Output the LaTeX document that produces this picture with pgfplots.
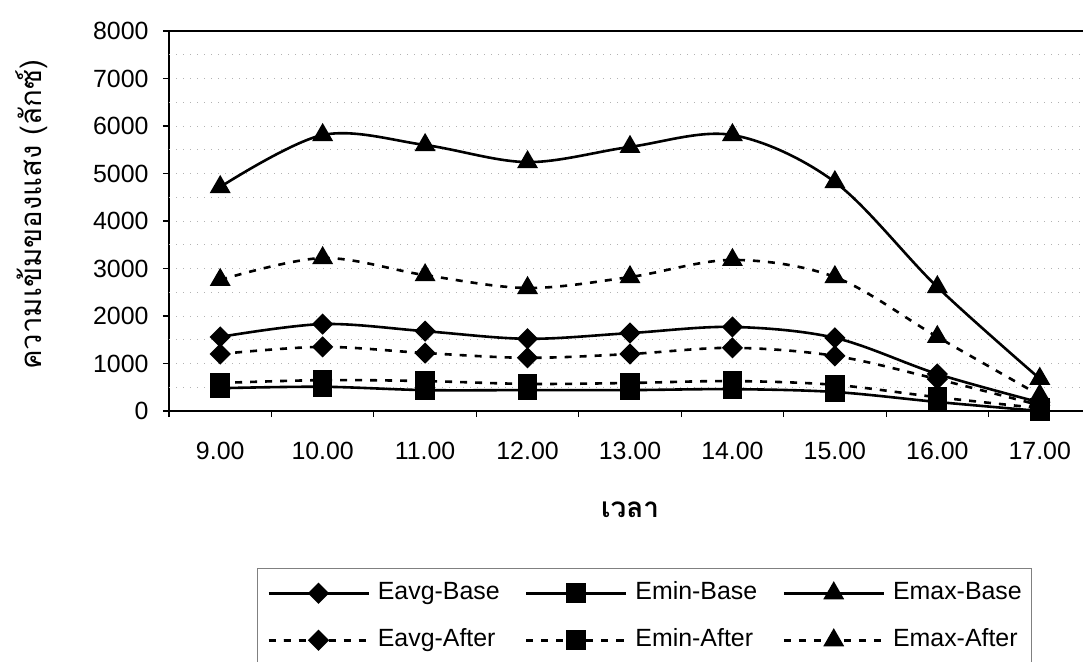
\documentclass[border=0pt]{standalone}
\usepackage{fontspec}
\setmainfont{Liberation Sans}
\newfontfamily\thaifont[Script=Thai]{Loma}
\usepackage{pgfplots}
\pgfplotsset{compat=1.18}
\begin{document}
\begin{tikzpicture}
\useasboundingbox (0,0) rectangle (1083bp,662bp);
\begin{axis}[
  at={(169bp,251bp)}, anchor=south west,
  scale only axis, width=922bp, height=380bp,
  xmin=-0.5, xmax=8.5, ymin=0, ymax=8000,
  clip=false,
  axis line style={line width=1.6bp},
  /pgf/number format/assume math mode=true,
  tick label style={font=\fontsize{25}{30}\selectfont},
  xtick={-0.5,0.5,...,8.5}, xticklabels={},
  extra x ticks={0,1,...,8},
  extra x tick labels={9.00,10.00,11.00,12.00,13.00,14.00,15.00,16.00,17.00},
  extra x tick style={major tick length=0pt},
  xticklabel style={yshift=-28bp},
  ytick={0,1000,...,8000},
  yticklabel style={xshift=-11bp},
  scaled y ticks=false,
  yticklabel={\pgfmathprintnumber[fixed,1000 sep={}]{\tick}},
  extra y ticks={500,1500,...,7500}, extra y tick labels={},
  extra y tick style={major tick length=0pt, grid=major},
  ymajorgrids,
  grid style={black!30, line width=0.5bp, dash pattern=on 1bp off 6bp},
  tick align=outside, major tick length=6bp, tick pos=left,
  tick style={black, line width=1.2bp},
  xlabel={\thaifont\bfseries เวลา},
  xlabel style={at={(axis description cs:0.5,-0.2605)}, anchor=center, font=\fontsize{28}{32}\selectfont},
  ylabel={\thaifont ความเข้มของแสง (ลักซ์)},
  ylabel style={at={(axis description cs:-0.1486,0.516)}, anchor=center, font=\fontsize{29.5}{34}\selectfont},
  legend columns=3,
  legend cell align=left,
  legend style={at={(0.0954,-0.413)}, anchor=north west, draw=black!50, line width=0.6bp,
    inner xsep=10bp, inner ysep=13bp, row sep=23bp, column sep=0bp,
    nodes={inner sep=0pt, text height=18bp, text depth=6bp, font=\fontsize{25}{30}\selectfont}},
  legend image code/.code={\draw[mark repeat=2,mark phase=2] plot coordinates {(0bp,0bp)(50bp,0bp)(100bp,0bp)};},
  every axis plot/.append style={black, line width=2.6bp, smooth, tension=0.55},
  base/.style={solid},
  after/.style={dash pattern=on 7bp off 8bp},
  dia/.style={mark=square*, mark size=6.2bp, mark options={solid, rotate=45, draw=black, fill=black}},
  sq/.style={mark=square*, mark size=8.5bp, mark options={solid, draw=black, fill=black}},
  tri/.style={mark=triangle*, mark size=9.5bp, mark options={solid, draw=black, fill=black}},
]
\addplot[base, dia] coordinates {(0,1560)(1,1830)(2,1680)(3,1520)(4,1640)(5,1770)(6,1540)(7,780)(8,180)};
\addlegendentry{\hspace{8bp}\makebox[147bp][l]{Eavg-Base}}
\addplot[base, sq] coordinates {(0,480)(1,510)(2,440)(3,440)(4,440)(5,460)(6,400)(7,190)(8,0)};
\addlegendentry{\hspace{8bp}\makebox[147bp][l]{Emin-Base}}
\addplot[base, tri] coordinates {(0,4716)(1,5810)(2,5600)(3,5240)(4,5560)(5,5810)(6,4820)(7,2610)(8,680)};
\addlegendentry{\hspace{8bp}Emax-Base}
\addplot[after, dia] coordinates {(0,1200)(1,1350)(2,1220)(3,1120)(4,1200)(5,1330)(6,1160)(7,670)(8,120)};
\addlegendentry{\hspace{8bp}\makebox[147bp][l]{Eavg-After}}
\addplot[after, sq] coordinates {(0,590)(1,650)(2,630)(3,570)(4,590)(5,630)(6,550)(7,290)(8,60)};
\addlegendentry{\hspace{8bp}\makebox[147bp][l]{Emin-After}}
\addplot[after, tri] coordinates {(0,2760)(1,3220)(2,2860)(3,2590)(4,2820)(5,3180)(6,2820)(7,1560)(8,330)};
\addlegendentry{\hspace{8bp}Emax-After}
\end{axis}
\end{tikzpicture}
\end{document}
